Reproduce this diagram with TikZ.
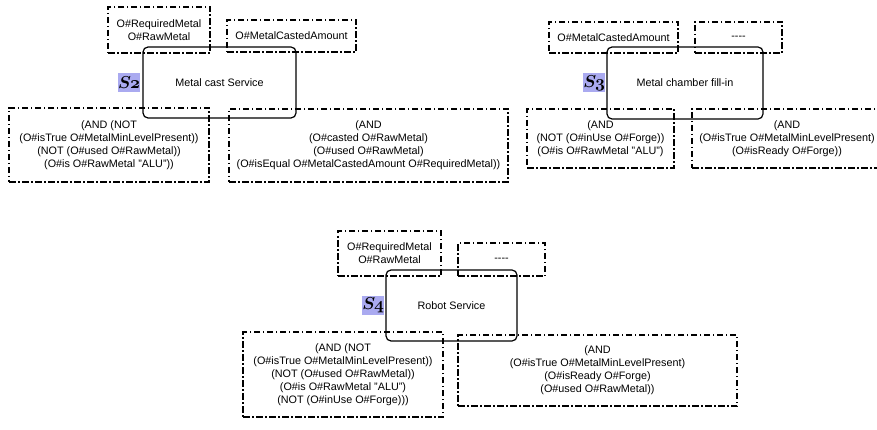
\documentclass[tikz,border=0pt]{standalone}
\usepackage{fontspec}
\setmainfont{Liberation Sans}
\usepackage{xcolor}
\usetikzlibrary{positioning}
\definecolor{labelbg}{RGB}{170,170,240}

\begin{document}
\begin{tikzpicture}[
    x=1pt, y=-1pt,
    every node/.style={align=center, font=\fontsize{10.8}{13}\selectfont}
]
    % Define styles
    \tikzstyle{service} = [rectangle, rounded corners=5pt, draw=black, line width=1.2pt, inner sep=0pt]
    \tikzstyle{cond} = [rectangle, draw=black, line width=1.1pt, dash pattern=on 6.5pt off 2.5pt on 1.5pt off 2.5pt, inner sep=0pt]
    \tikzstyle{svclabel} = [rectangle, fill=labelbg, inner sep=0pt, minimum width=22pt, minimum height=19pt, font=\fontsize{16}{16}\usefont{OML}{cmm}{b}{it}]

    \useasboundingbox (0,0) rectangle (877,430);

    % Service S2
    \node [service, minimum width=153pt, minimum height=71pt] (s2) at (219.5,82.5) {Metal cast Service};
    \node [svclabel, left=2pt of s2] (s2label) {S2};
    \node [cond, minimum width=102pt, minimum height=46pt] (s2in) at (159,30) {O\#RequiredMetal\\O\#RawMetal};
    \node [cond, minimum width=129pt, minimum height=32pt] (s2out) at (291.5,36) {O\#MetalCastedAmount};
    \node [cond, minimum width=200pt, minimum height=74pt] (s2pre) at (109,145) {(AND (NOT\\(O\#isTrue O\#MetalMinLevelPresent))\\(NOT (O\#used O\#RawMetal))\\(O\#is O\#RawMetal "ALU"))};
    \node [cond, minimum width=279pt, minimum height=73pt] (s2eff) at (368.5,145.5) {(AND\\(O\#casted O\#RawMetal)\\(O\#used O\#RawMetal)\\(O\#isEqual O\#MetalCastedAmount O\#RequiredMetal))};

    % Service S3
    \node [service, minimum width=156pt, minimum height=72pt] (s3) at (685,83) {Metal chamber fill-in};
    \node [svclabel, left=1pt of s3] (s3label) {S3};
    \node [cond, minimum width=129pt, minimum height=31pt] (s3in) at (613.5,37.5) {O\#MetalCastedAmount};
    \node [cond, minimum width=87pt, minimum height=31pt] (s3out) at (738.5,37.5) {-{}-{}-{}-};
    \node [cond, minimum width=147pt, minimum height=59pt] (s3pre) at (600.5,138.5) {(AND\\(NOT (O\#inUse O\#Forge))\\(O\#is O\#RawMetal "ALU")};
    \node [cond, minimum width=190pt, minimum height=59pt] (s3eff) at (787,138.5) {(AND\\(O\#isTrue O\#MetalMinLevelPresent)\\(O\#isReady O\#Forge))};

    % Service S4
    \node [service, minimum width=131pt, minimum height=71pt] (s4) at (451.5,305.5) {Robot Service};
    \node [svclabel, left=1pt of s4] (s4label) {S4};
    \node [cond, minimum width=103pt, minimum height=45pt] (s4in) at (389.5,253.5) {O\#RequiredMetal\\O\#RawMetal};
    \node [cond, minimum width=87pt, minimum height=33pt] (s4out) at (501.5,259.5) {-{}-{}-{}-};
    \node [cond, minimum width=200pt, minimum height=85pt] (s4pre) at (343,374.5) {(AND (NOT\\(O\#isTrue O\#MetalMinLevelPresent))\\(NOT (O\#used O\#RawMetal))\\(O\#is O\#RawMetal "ALU")\\(NOT (O\#inUse O\#Forge)))};
    \node [cond, minimum width=279pt, minimum height=71pt] (s4eff) at (597.5,370.5) {(AND\\(O\#isTrue O\#MetalMinLevelPresent)\\(O\#isReady O\#Forge)\\(O\#used O\#RawMetal))};

\end{tikzpicture}
\end{document}
